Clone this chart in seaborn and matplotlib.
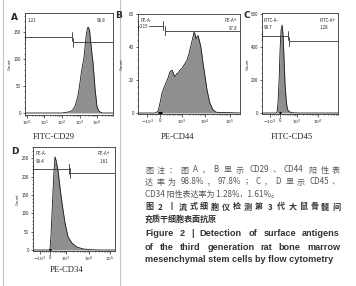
import re
import numpy as np
import matplotlib
matplotlib.use("Agg")
import matplotlib.pyplot as plt
import seaborn as sns

W, H = 356, 286

# Panel A - FITC-CD29 (x in decades, log10 of intensity)
a_x = [-0.11, 2.0, 2.17, 2.4, 2.6, 2.75, 2.9, 3.0, 3.1, 3.26, 3.37, 3.45, 3.49,
       3.57, 3.63, 3.7, 3.77, 3.89, 4.0, 4.1, 4.17, 4.3, 4.91]
a_count = [0, 0, 1, 2, 5, 13, 30, 50, 74, 104, 141, 157, 159,
           154, 135, 112, 93, 43, 11, 4, 2, 0, 0]

# Panel B - PE-CD44 (biexponential display units)
b_x = [-1.0, -0.23, -0.09, 0.0, 0.09, 0.23, 0.36, 0.45, 0.55, 0.64, 0.68, 0.77,
       0.82, 0.91, 1.0, 1.14, 1.23, 1.32, 1.41, 1.5, 1.55, 1.59, 1.64, 1.68,
       1.73, 1.77, 1.86, 1.95, 2.05, 2.14, 2.27, 2.41, 2.55, 2.73, 3.18, 3.64]
b_count = [0, 0, 1, 6, 12, 17, 21, 25, 26, 23, 22, 24,
           24, 26, 27, 30, 32, 36, 41, 46, 49, 48, 45, 46,
           47, 45, 40, 31, 22, 14, 6, 2, 0.5, 0.3, 0.2, 0]

# Panel C - FITC-CD45
c_x = [-0.95, -0.21, -0.16, -0.11, -0.05, 0.0, 0.05, 0.11, 0.16, 0.21, 0.26,
       0.32, 0.37, 0.42, 0.53, 0.68, 1.05, 3.05]
c_count = [0, 0, 5, 60, 200, 380, 500, 533, 470, 330, 180,
           80, 35, 15, 5, 1, 0, 0]

# Panel D - PE-CD34
d_x = [-0.85, -0.05, 0.0, 0.05, 0.1, 0.15, 0.2, 0.25, 0.3, 0.4, 0.5, 0.6,
       0.75, 0.9, 1.1, 1.35, 1.65, 2.0, 2.5, 3.25]
d_count = [0, 0, 2, 40, 100, 160, 215, 254, 245, 218, 170, 128,
           74, 36, 19, 8, 3, 1, 0, 0]

# gates: (x_start, x_end, y level)
a_gates = [(-0.11, 2.57, 141), (2.63, 4.91, 131)]
b_gates = [(-1.0, 0.14, 53), (0.23, 3.64, 50)]
c_gates = [(-0.95, 0.42, 467), (0.47, 3.05, 436)]
d_gates = [(-0.85, 0.95, 221), (1.0, 3.25, 210)]

a_pct = ["1.21", "98.8"]
b_pct = ["2.15", "97.8"]
c_pct = ["98.7", "1.28"]
d_pct = ["98.4", "1.61"]

sns.set_theme(style="white")
plt.rcParams['font.family'] = ['Noto Sans CJK SC', 'DejaVu Sans']

fig = plt.figure(figsize=(W / 100, H / 100), dpi=100)
fig.patch.set_facecolor("white")


def px_axes(x0, y0, x1, y1):
    return fig.add_axes([x0 / W, 1 - y1 / H, (x1 - x0) / W, (y1 - y0) / H])


def biex_minor(pos):
    # pos: tick positions for -10^3, 0, 10^3, 10^4 ...
    m = list(np.linspace(pos[0], pos[1], 6)[1:-1]) + list(np.linspace(pos[1], pos[2], 6)[1:-1])
    for i in range(2, len(pos)):
        d = pos[i] - pos[i - 1]
        m += [pos[i - 1] + np.log10(k) * d for k in range(2, 10)]
    d = pos[-1] - pos[-2]
    m += [pos[-1] + np.log10(k) * d for k in range(2, 10)]
    return m


tick_font = 3.2


def draw_panel(ax, xs, ys, xlim, ylim, xt, xtl, yt, gates, pile=None):
    ax.fill_between(xs, ys, 0, color="#8f8f8f", lw=0)
    sns.lineplot(x=xs, y=ys, ax=ax, color="#1a1a1a", lw=0.6, estimator=None, sort=False)
    if pile is not None:
        ax.plot([pile - 0.07, pile + 0.07], [0, 0], color="black", lw=2.2, solid_capstyle="butt")
    ax.set_xlim(xlim)
    ax.set_ylim(ylim)
    ax.set_xticks(xt)
    ax.set_xticklabels(xtl)
    ax.set_yticks(yt)
    ax.set_yticklabels([str(v) for v in yt])
    ax.tick_params(axis="both", which="major", labelsize=tick_font, length=1.8, width=0.5,
                   pad=1.0, direction="out", colors="#222222", bottom=True, left=True)
    ax.tick_params(axis="both", which="minor", length=1.0, width=0.4, bottom=True, left=True,
                   colors="#222222")
    ystep = yt[1] - yt[0]
    ax.set_yticks(np.arange(0, ylim[1], ystep / 5), minor=True)
    for s in ax.spines.values():
        s.set_linewidth(0.6)
        s.set_color("#333333")
    h = (ylim[1] - ylim[0]) * 0.045
    for x0, x1, y in gates:
        ax.plot([x0, x1], [y, y], color="#333333", lw=0.6)
        ax.plot([x0, x0], [y - h, y + h], color="#333333", lw=0.6)
        ax.plot([x1, x1], [y - h, y + h], color="#333333", lw=0.6)
    ax.set_xlabel("")
    ax.set_ylabel("")


# A
axA = px_axes(25, 13, 113, 115)
draw_panel(axA, a_x, a_count, (-0.11, 4.91), (-3.7, 185), [0, 1, 2, 3, 4],
           [r"$10^0$", r"$10^1$", r"$10^2$", r"$10^3$", r"$10^4$"], [0, 50, 100, 150], a_gates)
axA.set_xticks([d + np.log10(k) for d in range(-1, 5) for k in range(2, 10)
                if -0.11 < d + np.log10(k) < 4.91], minor=True)
axA.text(0.03, 0.93, a_pct[0], transform=axA.transAxes, fontsize=tick_font, va="center")
axA.text(0.91, 0.93, a_pct[1], transform=axA.transAxes, fontsize=tick_font, va="center", ha="right")

# B
axB = px_axes(138, 14, 240, 114)
bt = [-0.59, 0, 1.0, 2.05, 3.18]
draw_panel(axB, b_x, b_count, (-1.0, 3.64), (-0.6, 60), bt,
           [r"$-10^3$", "0", r"$10^3$", r"$10^4$", r"$10^5$"], [0, 20, 40, 60], b_gates, pile=0.0)
axB.set_xticks([v for v in biex_minor(bt) if -1.0 < v < 3.64], minor=True)
axB.text(0.02, 0.94, "PE-A-", transform=axB.transAxes, fontsize=tick_font, va="center")
axB.text(0.02, 0.875, b_pct[0], transform=axB.transAxes, fontsize=tick_font, va="center",
         bbox=dict(facecolor="white", edgecolor="none", pad=0.2))
axB.text(0.97, 0.94, "PE-A+", transform=axB.transAxes, fontsize=tick_font, va="center", ha="right")
axB.text(0.97, 0.86, b_pct[1], transform=axB.transAxes, fontsize=tick_font, va="center", ha="right",
         bbox=dict(facecolor="white", edgecolor="none", pad=0.2))

# C
axC = px_axes(262, 13, 338, 114)
ct = [-0.53, 0, 0.9, 2.0]
draw_panel(axC, c_x, c_count, (-0.95, 3.05), (-6, 606), ct,
           [r"$-10^3$", "0", r"$10^3$", r"$10^4$"], [0, 200, 400, 600], c_gates, pile=0.0)
axC.set_xticks([v for v in biex_minor(ct) if -0.95 < v < 3.05], minor=True)
axC.text(0.02, 0.93, "FITC-A-", transform=axC.transAxes, fontsize=tick_font, va="center")
axC.text(0.02, 0.86, c_pct[0], transform=axC.transAxes, fontsize=tick_font, va="center")
axC.text(0.97, 0.93, "FITC-A+", transform=axC.transAxes, fontsize=tick_font, va="center", ha="right")
axC.text(0.87, 0.86, c_pct[1], transform=axC.transAxes, fontsize=tick_font, va="center", ha="right")

# D
axD = px_axes(33, 147, 115, 251)
dt = [-0.5, 0, 0.8, 1.95, 3.0]
draw_panel(axD, d_x, d_count, (-0.85, 3.25), (-2.7, 281), dt,
           [r"$-10^3$", "0", r"$10^3$", r"$10^4$", r"$10^5$"], [0, 50, 100, 150, 200, 250],
           d_gates, pile=0.0)
axD.set_xticks([v for v in biex_minor(dt) if -0.85 < v < 3.25], minor=True)
axD.text(0.03, 0.94, "PE-A-", transform=axD.transAxes, fontsize=tick_font, va="center")
axD.text(0.03, 0.86, d_pct[0], transform=axD.transAxes, fontsize=tick_font, va="center")
axD.text(0.94, 0.94, "PE-A+", transform=axD.transAxes, fontsize=tick_font, va="center", ha="right")
axD.text(0.92, 0.86, d_pct[1], transform=axD.transAxes, fontsize=tick_font, va="center", ha="right")


def ftext(x, y, s, **kw):
    return fig.text(x / W, 1 - y / H, s, **kw)


# light frame lines round the left image column
for xf in [3, 120]:
    fig.add_artist(plt.Line2D([xf / W, xf / W], [0, 1], color="#c4c4c4", lw=0.8))

# panel letters, y labels, x labels
for x, y, s in [(14, 17, "A"), (119, 16, "B"), (247, 16, "C"), (15, 152, "D")]:
    ftext(x, y, s, fontsize=6.5, fontweight="bold", family="DejaVu Sans", ha="center", va="center")
for x, y in [(10, 64), (122, 64), (248, 64), (18, 199)]:
    ftext(x, y, "Count", fontsize=2.8, rotation=90, ha="center", va="center", family="DejaVu Sans")
for x, y, s in [(54, 137, "FITC-CD29"), (177, 137, "PE-CD44"), (292, 137, "FITC-CD45"),
                (67, 270, "PE-CD34")]:
    ftext(x, y, s, fontsize=6.2, family="Liberation Serif", ha="center", va="center", color="#222222")

# caption
cap_gray = ["图注：图 A，B 显示 CD29、CD44 阳性表",
            "达率为 98.8%，97.8%；C，D 显示 CD45、",
            "CD34 阳性表达率为 1.28%，1.61%。"]
cap_bold = ["图 2 丨流式细胞仪检测第 3 代大鼠骨髓间",
            "充质干细胞表面抗原"]
cap_en = ["Figure 2  |  Detection of surface antigens",
          "of the third generation rat bone marrow",
          "mesenchymal stem cells by flow cytometry"]

renderer = fig.canvas.get_renderer()


def text_width(s, **kw):
    t = fig.text(0, 0, s, **kw)
    w = t.get_window_extent(renderer).width
    t.remove()
    return w


def advance(s, **kw):
    # width including side bearings, measured between two guard letters
    return text_width("H" + s + "H", **kw) - text_width("HH", **kw)


def justify(x0, x1, y, s, **kw):
    parts = re.findall(r"\s*(?:[A-Za-z0-9.%|\-]+|\S)", s)
    toks = [(p != p.lstrip(), p.strip()) for p in parts]
    widths = [advance(t, **kw) for _, t in toks]
    spw = advance(" ", **kw)
    base = sum(widths) + spw * sum(sp for sp, _ in toks[1:])
    extra = max(0, (x1 - x0 - base) / (len(toks) - 1))
    x = x0
    for i, (sp, t) in enumerate(toks):
        if i > 0:
            x += (spw if sp else 0) + extra
        ftext(x, y, t, **kw)
        x += widths[i]


g_kw = dict(fontsize=5.8, color="#555555", va="center")
b_kw = dict(fontsize=5.8, color="#333333", fontweight="bold", va="center")
e_kw = dict(fontsize=6.6, color="#333333", fontweight="bold", va="center", family="Liberation Sans")

justify(145, 340, 170, cap_gray[0], **g_kw)
justify(145, 340, 182, cap_gray[1], **g_kw)
ftext(145, 194, cap_gray[2], **g_kw)
justify(145, 340, 207, cap_bold[0], **b_kw)
ftext(145, 219, cap_bold[1], **b_kw)
justify(145, 340, 234, cap_en[0], **e_kw)
justify(145, 340, 247, cap_en[1], **e_kw)
ftext(145, 259, cap_en[2], **e_kw)

fig.savefig("out.png", dpi=100)
